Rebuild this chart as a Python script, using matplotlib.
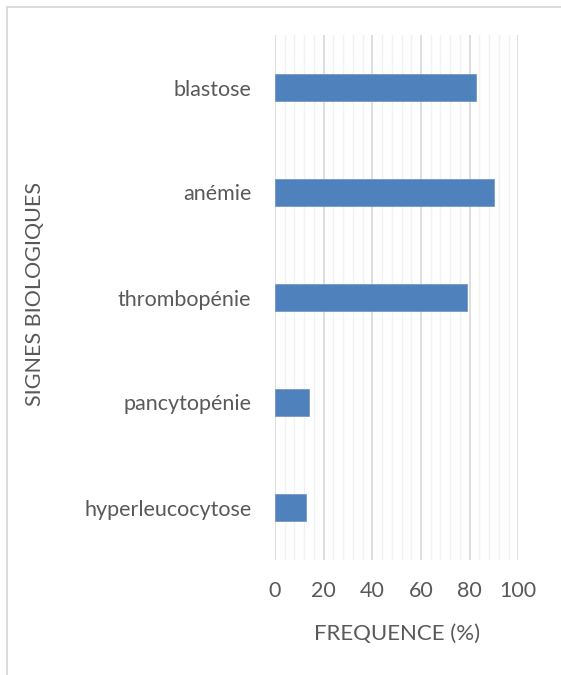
import matplotlib
matplotlib.use("Agg")
import matplotlib.pyplot as plt
from matplotlib.patches import Rectangle
import numpy as np

categories = ["hyperleucocytose", "pancytopénie", "thrombopénie", "anémie", "blastose"]
values = [12.6, 14.0, 79.0, 90.1, 82.5]
xticks = [0, 20, 40, 60, 80, 100]

plt.rcParams['font.family'] = ['Lato', 'DejaVu Sans']
text_color = '#595959'

fig = plt.figure(figsize=(5.61, 6.75), dpi=100)
W, H = 561, 675
ax = fig.add_axes([275 / W, 1 - 560 / H, (518.3 - 275) / W, (560 - 35) / H])

# outer chart frame
fig.patches.append(Rectangle((6.5 / W, -0.1), 1.2, (1 - 6.5 / H) + 0.1, transform=fig.transFigure,
                             fill=False, edgecolor='#d9d9d9', linewidth=1.3))

y = np.arange(len(categories))
ax.barh(y, values, height=0.25, color='#4f81bd', edgecolor='#7399c6', linewidth=0.6, zorder=3)

ax.set_xlim(0, 100)
ax.set_ylim(-0.5, len(categories) - 0.5)
ax.set_xticks(xticks)
ax.set_xticks(np.arange(0, 101, 4), minor=True)
ax.set_yticks(y)
ax.set_yticklabels(categories)
ax.grid(True, axis='x', which='minor', color='#f2f2f2', linewidth=1.0, zorder=0)
ax.grid(True, axis='x', which='major', color='#d9d9d9', linewidth=1.2, zorder=1)
ax.tick_params(axis='both', which='both', length=0, labelsize=15.5, labelcolor=text_color)
ax.tick_params(axis='y', pad=17)
ax.tick_params(axis='x', pad=15)
for s in ax.spines.values():
    s.set_visible(False)

fig.text(397 / W, 1 - 634 / H, 'FREQUENCE (%)', fontsize=16, color=text_color,
         ha='center', va='center')
fig.text(35 / W, 1 - 294 / H, 'SIGNES BIOLOGIQUES', rotation=90, fontsize=15.5, color=text_color,
         ha='center', va='center')

fig.savefig('out.png', dpi=100)
